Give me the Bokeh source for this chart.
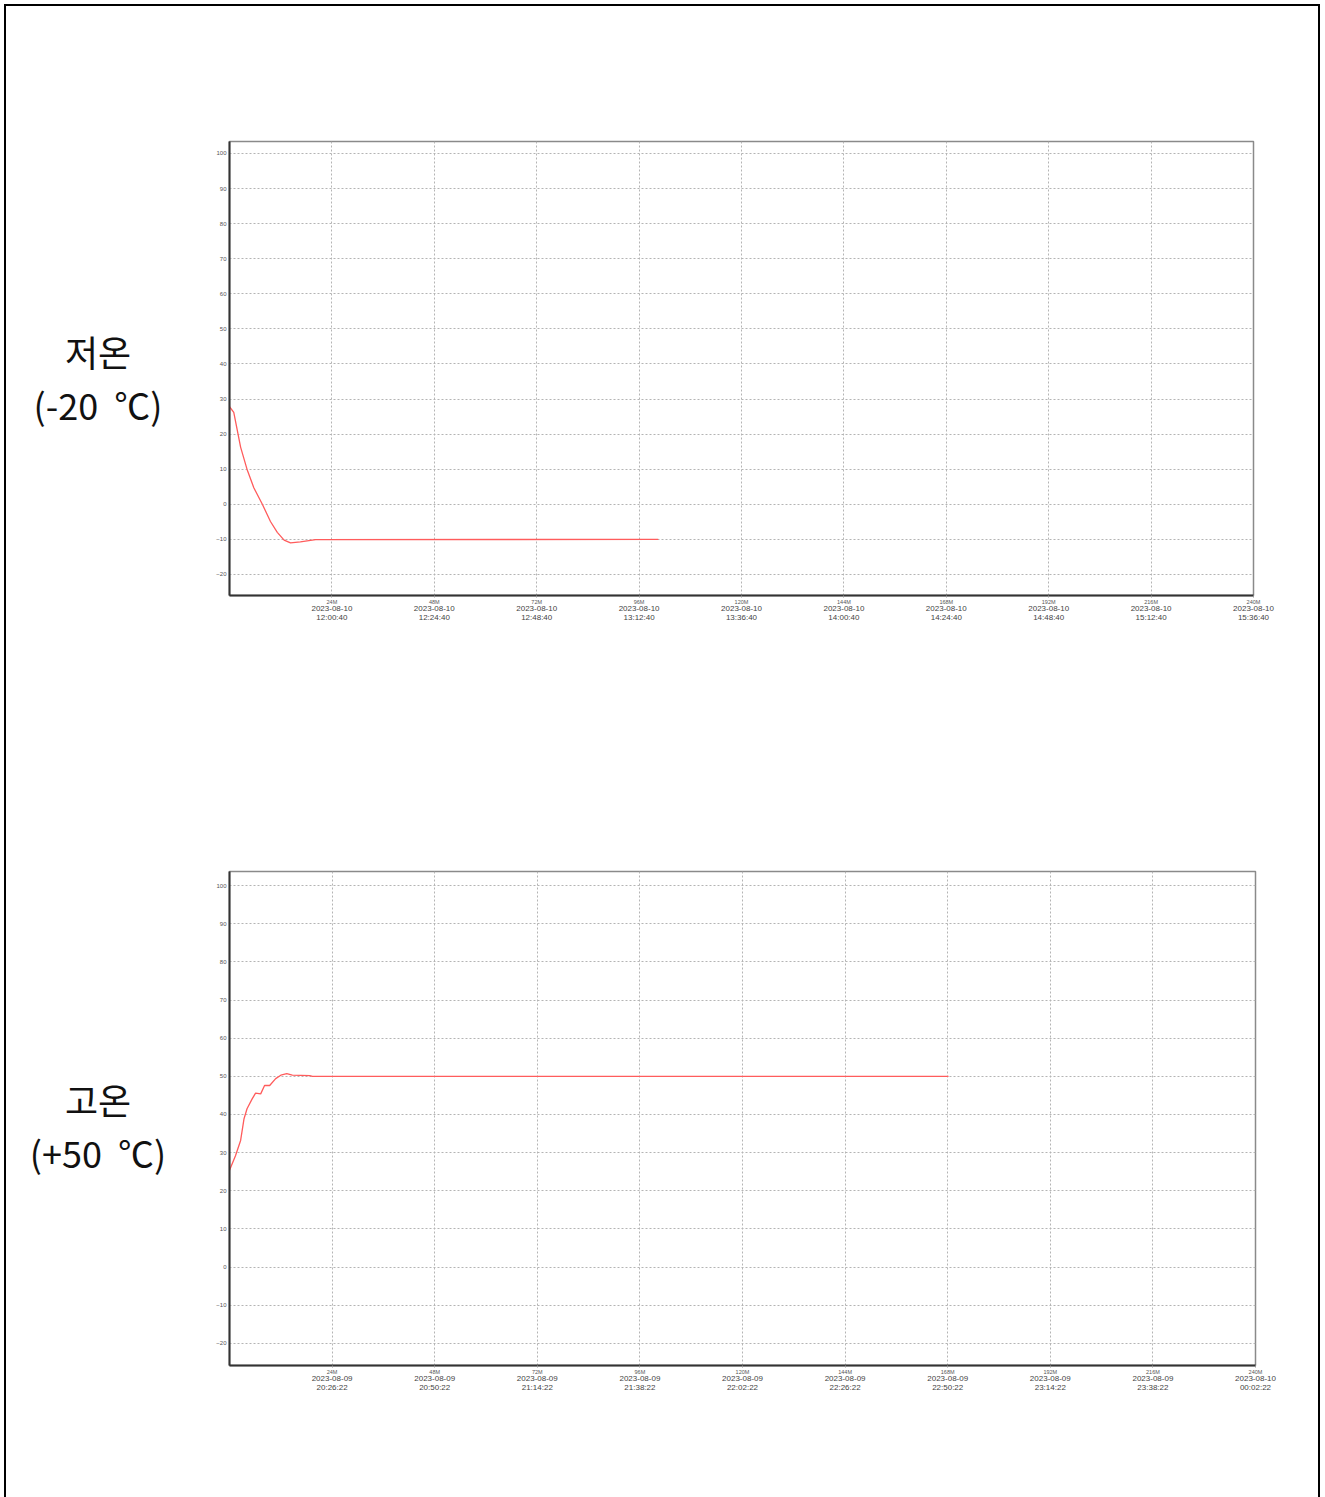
from bokeh.plotting import figure
from bokeh.models import Div, Range1d, FixedTicker, LinearAxis
from bokeh.layouts import column, row
from bokeh.embed import file_html
from bokeh.resources import INLINE

# ---- data ----
tick_minutes = [24, 48, 72, 96, 120, 144, 168, 192, 216, 240]
tick_names = ["24M", "48M", "72M", "96M", "120M", "144M", "168M", "192M", "216M", "240M"]

low_dates = ["2023-08-10"] * 10
low_clock = ["12:00:40", "12:24:40", "12:48:40", "13:12:40", "13:36:40",
             "14:00:40", "14:24:40", "14:48:40", "15:12:40", "15:36:40"]
low_t = [0, 1.0, 2.6, 4.1, 5.7, 7.7, 9.6, 11.2, 12.8, 14.3, 16.6, 20.2, 100.5]
low_v = [27.8, 26.2, 16.3, 10.0, 4.7, 0.0, -4.9, -8.0, -10.2, -11.0, -10.7, -10.1, -10.0]

high_dates = ["2023-08-09"] * 9 + ["2023-08-10"]
high_clock = ["20:26:22", "20:50:22", "21:14:22", "21:38:22", "22:02:22",
              "22:26:22", "22:50:22", "23:14:22", "23:38:22", "00:02:22"]
high_t = [0, 1.4, 2.6, 3.4, 4.1, 5.3, 6.1, 7.3, 8.2, 9.4, 10.8, 12.0, 13.4, 14.7, 18.8, 19.4, 168.2]
high_v = [25.4, 29.2, 33.2, 38.9, 41.5, 44.1, 45.6, 45.4, 47.6, 47.6, 49.4, 50.3, 50.7, 50.3, 50.2, 50.0, 50.0]

y_ticks = [-20, -10, 0, 10, 20, 30, 40, 50, 60, 70, 80, 90, 100]


def make_chart(ts, vs, dates, clocks, y0, y1, fw, fh, top, bottom, right):
    p = figure(frame_width=fw, frame_height=fh,
               x_range=Range1d(0, 240), y_range=Range1d(y0, y1),
               output_backend="svg", toolbar_location=None,
               min_border_left=41, min_border_right=right,
               min_border_top=top, min_border_bottom=bottom,
               background_fill_color="white", border_fill_color="white")
    p.outline_line_color = "#8a8a8a"
    p.outline_line_width = 1.5

    # x axis (minutes)
    xa = p.xaxis[0]
    xa.ticker = FixedTicker(ticks=tick_minutes)
    xa.major_label_overrides = {m: n for m, n in zip(tick_minutes, tick_names)}
    xa.major_label_text_font_size = "5.5px"
    xa.major_label_text_color = "#555555"
    xa.major_label_standoff = 1
    xa.major_tick_out = 2
    xa.major_tick_in = 0
    xa.major_tick_line_color = "#999999"
    xa.minor_tick_line_color = None
    xa.axis_line_color = "#333333"
    xa.axis_line_width = 2

    xa2 = LinearAxis(ticker=FixedTicker(ticks=tick_minutes),
                     major_label_overrides={m: f"{d}\n{c}" for m, d, c in zip(tick_minutes, dates, clocks)},
                     axis_line_color=None, major_tick_line_color=None,
                     minor_tick_line_color=None,
                     major_tick_in=0, major_tick_out=0,
                     major_label_text_font_size="8px",
                     major_label_text_color="#444444",
                     major_label_standoff=-4, major_label_text_line_height=1.0)
    p.add_layout(xa2, "below")

    ya = p.yaxis[0]
    ya.ticker = FixedTicker(ticks=y_ticks)
    ya.major_label_text_font_size = "6px"
    ya.major_label_text_color = "#555555"
    ya.major_label_standoff = 3
    ya.major_tick_out = 0
    ya.major_tick_in = 0
    ya.minor_tick_line_color = None
    ya.axis_line_color = "#333333"
    ya.axis_line_width = 2

    p.xgrid.ticker = FixedTicker(ticks=tick_minutes)
    p.ygrid.ticker = FixedTicker(ticks=y_ticks)
    for g in (p.xgrid, p.ygrid):
        g.grid_line_color = "#b4b4b4"
        g.grid_line_dash = "2 2"
        g.grid_line_width = 1

    p.line(ts, vs, line_color="#ff5c5c", line_width=1.3)
    return p


def label_div(l1, l2, h, pad):
    html = (f'<div style="width:180px;font-family:\'Noto Sans CJK KR\',sans-serif;font-size:36px;'
            f'line-height:53px;text-align:center;padding-top:{pad}px;color:#111;">'
            f'{l1}<br>{l2}</div>')
    return Div(text=html, width=180, height=h, margin=0)


p1 = make_chart(low_t, low_v, low_dates, low_clock, -26.0, 103.4, 1024, 454, 133, 60, 63)
p2 = make_chart(high_t, high_v, high_dates, high_clock, -25.8, 103.7, 1026, 494, 216, 131, 61)

d1 = label_div("저온", "(-20&nbsp;&nbsp;℃)", 647, 317)
d2 = label_div("고온", "(+50&nbsp;&nbsp;℃)", 841, 418)

layout = column(row(d1, p1), row(d2, p2), margin=(8, 0, 0, 8),
                styles={"outline": "2px solid #000", "outline-offset": "2px",
                        "background-color": "white"})

open("out.html", "w").write(file_html(layout, INLINE))
